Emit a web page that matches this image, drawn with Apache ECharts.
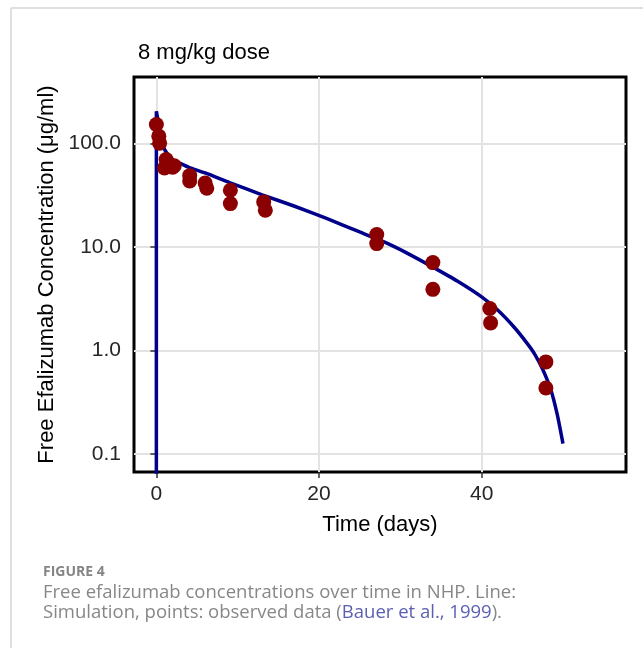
<!DOCTYPE html>
<html>
<head>
<meta charset="utf-8">
<script src="https://cdn.jsdelivr.net/npm/echarts@6/dist/echarts.min.js"></script>
<style>
  html, body { margin: 0; padding: 0; background: #fff; }
  #chart { width: 643px; height: 648px; }
</style>
</head>
<body>
<div id="chart"></div>
<script>
// observed data (days, ug/ml)
const obsTime = [0, 0.3, 0.4, 1.2, 1.0, 2.2, 2.0, 4.1, 4.1, 6.0, 6.2, 9.1, 9.1, 13.2, 13.4, 27.1, 27.1, 34.0, 34.0, 41.0, 41.1, 47.9, 47.9];
const obsConc = [153, 118, 101, 70, 58, 61, 59, 49, 43.5, 41.6, 37, 35.4, 26.3, 27.3, 22.7, 13.2, 10.8, 7.08, 3.9, 2.55, 1.85, 0.776, 0.435];

// simulated line
const simTime = [0, 0, 0.25, 0.5, 0.75, 1, 1.5, 2, 3, 4, 6, 9, 13, 17, 21, 25, 28, 31, 34, 37, 40, 42, 44, 45.5, 46.5, 47.5, 48.5, 49.3, 50];
const simConc = [0.01, 205, 160, 125, 100, 88, 77, 70, 64, 59, 52, 42, 32, 24.8, 18.8, 14, 11.2, 8.6, 6.4, 4.7, 3.3, 2.45, 1.68, 1.2, 0.93, 0.66, 0.42, 0.24, 0.126];

const xTicks = [0, 20, 40];
const yTicks = [0.1, 1, 10, 100];

const chart = echarts.init(document.getElementById('chart'));
const font = '"Liberation Sans", Arial, sans-serif';
const capFont = '"Open Sans", Lato, sans-serif';

chart.setOption({
  animation: false,
  backgroundColor: '#fff',
  textStyle: { fontFamily: font },
  title: {
    text: '8 mg/kg dose',
    left: 133,
    top: 37,
    textStyle: { fontFamily: font, fontSize: 22, fontWeight: 'normal', color: '#000' }
  },
  grid: {
    left: 134, right: 17, top: 77, bottom: 176,
    show: true, borderColor: '#000', borderWidth: 3, backgroundColor: '#fff'
  },
  xAxis: {
    type: 'value',
    min: -2.75, max: 57.75,
    name: 'Time (days)',
    nameLocation: 'middle',
    nameGap: 42,
    nameTextStyle: { fontFamily: font, fontSize: 22, color: '#000' },
    axisLine: { show: false },
    axisTick: { show: true, customValues: xTicks, length: 6, lineStyle: { color: '#333', width: 1.5 } },
    axisLabel: { customValues: xTicks, fontSize: 21, color: '#262626', margin: 12, fontFamily: font },
    splitLine: { show: true, lineStyle: { color: '#e3e3e3', width: 2 } }
  },
  yAxis: {
    type: 'log',
    min: 0.067, max: 440,
    name: 'Free Efalizumab Concentration (μg/ml)',
    nameLocation: 'middle',
    nameRotate: 90,
    nameGap: 75,
    nameTextStyle: { fontFamily: font, fontSize: 22, color: '#000' },
    axisLine: { show: false },
    axisTick: { show: true, customValues: yTicks, length: 6, lineStyle: { color: '#333', width: 1.5 } },
    axisLabel: {
      customValues: yTicks, fontSize: 21, color: '#262626', margin: 13, fontFamily: font,
      formatter: v => Number(v).toFixed(1)
    },
    splitLine: { show: true, lineStyle: { color: '#e3e3e3', width: 2 } },
    minorSplitLine: { show: false }
  },
  series: [
    {
      type: 'line',
      data: simTime.map((t, i) => [t, simConc[i]]),
      showSymbol: false,
      smooth: 0.2,
      clip: true,
      lineStyle: { color: '#00008b', width: 3.5 },
      z: 2
    },
    {
      type: 'scatter',
      data: obsTime.map((t, i) => [t, obsConc[i]]),
      symbolSize: 15,
      itemStyle: { color: '#8b0000', opacity: 1 },
      z: 3
    }
  ],
  graphic: [
    { type: 'line', shape: { x1: 11, y1: 8, x2: 643, y2: 8 }, style: { stroke: '#d4d4d4', lineWidth: 1.5 } },
    { type: 'line', shape: { x1: 11, y1: 8, x2: 11, y2: 648 }, style: { stroke: '#d4d4d4', lineWidth: 1.5 } },
    {
      type: 'text', left: 43, top: 565,
      style: { text: 'FIGURE 4', fontFamily: capFont, fontSize: 14, fontWeight: 'bold', fill: '#858585' }
    },
    {
      type: 'text', left: 43, top: 583,
      style: { text: 'Free efalizumab concentrations over time in NHP. Line:', fontFamily: capFont, fontSize: 18.5, fill: '#878787' }
    },
    {
      type: 'text', left: 43, top: 603,
      style: {
        text: 'Simulation, points: observed data ({c|Bauer et al., 1999}).',
        fontFamily: capFont, fontSize: 18.5, fill: '#878787',
        rich: { c: { fill: '#5a5fb3', fontFamily: capFont, fontSize: 18.5 } }
      }
    }
  ]
});
</script>
</body>
</html>
